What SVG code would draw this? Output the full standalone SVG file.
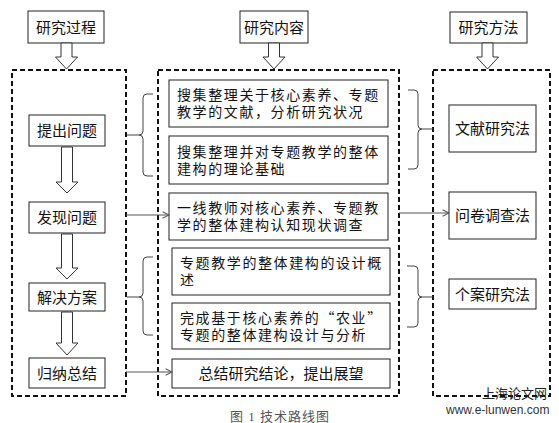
<svg xmlns="http://www.w3.org/2000/svg" width="559" height="423" viewBox="0 0 559 423">
<defs>
<style>
.bx{fill:#fff;stroke:#222;stroke-width:1}
.dash{fill:none;stroke:#111;stroke-width:2;stroke-dasharray:5 3}
.t{font-family:"Noto Sans CJK SC","Liberation Sans",sans-serif;font-size:15px;fill:#111}
.tl{font-family:"Noto Sans CJK SC","Liberation Sans",sans-serif;font-size:14px;fill:#111;letter-spacing:1.6px}
.c{text-anchor:middle}
.ha{fill:#fff;stroke:#333;stroke-width:1}
.br{fill:none;stroke:#444;stroke-width:1}
.ln{fill:none;stroke:#555;stroke-width:1.2}
</style>
<marker id="ah" viewBox="0 0 10 10" refX="9" refY="5" markerWidth="8" markerHeight="8" markerUnits="userSpaceOnUse" orient="auto">
<path d="M1,1 L9,5 L1,9" fill="none" stroke="#555" stroke-width="1.3"/>
</marker>
</defs>
<rect width="559" height="423" fill="#fff"/>

<g id="frames">
<rect class="dash" x="12" y="70" width="114" height="326"/>
<rect class="dash" x="158" y="70" width="241" height="326"/>
<rect class="dash" x="433" y="70" width="117" height="326"/>
</g>

<g id="head-process"><rect class="bx" x="28" y="11" width="76" height="32"/><text class="t c" x="66" y="32.5">研究过程</text></g>
<g id="head-content"><rect class="bx" x="240" y="11" width="68" height="32"/><text class="t c" x="274" y="32.5">研究内容</text></g>
<g id="head-method"><rect class="bx" x="450" y="12" width="77" height="31"/><text class="t c" x="488.5" y="33">研究方法</text></g>

<g id="p1"><rect class="bx" x="29" y="115" width="76" height="31"/><text class="t c" x="67" y="136">提出问题</text></g>
<g id="p2"><rect class="bx" x="29" y="202" width="76" height="31"/><text class="t c" x="67" y="223">发现问题</text></g>
<g id="p3"><rect class="bx" x="29" y="283" width="76" height="28"/><text class="t c" x="67" y="302.5">解决方案</text></g>
<g id="p4"><rect class="bx" x="29" y="358" width="76" height="30"/><text class="t c" x="67" y="378.5">归纳总结</text></g>

<g id="c1"><rect class="bx" x="169" y="80" width="219" height="47"/>
<text class="tl" x="177" y="100">搜集整理关于核心素养、专题<tspan x="177" dy="17">教学的文献，分析研究状况</tspan></text></g>
<g id="c2"><rect class="bx" x="169" y="136" width="219" height="48"/>
<text class="tl" x="177" y="156.5">搜集整理并对专题教学的整体<tspan x="177" dy="17">建构的理论基础</tspan></text></g>
<g id="c3"><rect class="bx" x="169" y="193" width="219" height="47"/>
<text class="tl" x="177" y="213">一线教师对核心素养、专题教<tspan x="177" dy="17">学的整体建构认知现状调查</tspan></text></g>
<g id="c4"><rect class="bx" x="172" y="248" width="218" height="47"/>
<text class="tl" x="180" y="268">专题教学的整体建构的设计概<tspan x="180" dy="17">述</tspan></text></g>
<g id="c5"><rect class="bx" x="172" y="303" width="218" height="46"/>
<text class="tl" x="180" y="322.5">完成基于核心素养的“农业”<tspan x="180" dy="17">专题的整体建构设计与分析</tspan></text></g>
<g id="c6"><rect class="bx" x="172" y="359" width="218" height="29"/>
<text class="t c" x="281" y="379">总结研究结论，提出展望</text></g>

<g id="m1"><rect class="bx" x="449" y="105" width="87" height="47"/><text class="t c" x="492.5" y="134">文献研究法</text></g>
<g id="m2"><rect class="bx" x="449" y="192" width="87" height="47"/><text class="t c" x="492.5" y="221">问卷调查法</text></g>
<g id="m3"><rect class="bx" x="449" y="279" width="87" height="30"/><text class="t c" x="492.5" y="299.5">个案研究法</text></g>

<g id="connectors">
<polygon class="ha" points="61,43 72,43 72,57 77.5,57 66.5,69 55.5,57 61,57"/>
<polygon class="ha" points="268.5,43 279.5,43 279.5,57 285,57 274,69 263,57 268.5,57"/>
<polygon class="ha" points="482,43 493,43 493,57 498.5,57 487.5,69 476.5,57 482,57"/>
<polygon class="ha" points="61.5,147 72.5,147 72.5,182 78,182 67,193 56,182 61.5,182"/>
<polygon class="ha" points="61.5,234 72.5,234 72.5,268 78,268 67,279 56,268 61.5,268"/>
<polygon class="ha" points="61.5,312 72.5,312 72.5,343 78,343 67,355 56,343 61.5,343"/>

<path class="br" d="M153,94 L147,94 Q143,94 143,98 L143,131 Q143,135 139,135 Q143,135 143,139 L143,172 Q143,176 147,176 L153,176 M127,135 L139,135"/>
<path class="br" d="M153,257 L147,257 Q143,257 143,261 L143,293 Q143,297 139,297 Q143,297 143,301 L143,331 Q143,335 147,335 L153,335 M127,297 L139,297"/>
<path class="br" d="M408,90 L414,90 Q418,90 418,94 L418,125 Q418,129 422,129 Q418,129 418,133 L418,165 Q418,169 414,169 L408,169 M422,129 L433,129"/>
<path class="br" d="M407,266 L414,266 Q418,266 418,270 L418,293 Q418,297 422,297 Q418,297 418,301 L418,323 Q418,327 414,327 L407,327 M422,297 L433,297"/>

<line class="ln" x1="126" y1="215" x2="169" y2="215" marker-end="url(#ah)"/>
<line class="ln" x1="399" y1="213" x2="449" y2="213" marker-end="url(#ah)"/>
<line class="ln" x1="126" y1="372" x2="172" y2="372" marker-end="url(#ah)"/>
</g>

<text x="230" y="421" style="font-family:'Liberation Serif','Noto Sans CJK SC',serif;font-size:13px;fill:#555;letter-spacing:1px">图 1  技术路线图</text>
<text x="482" y="398" style="font-family:'Noto Sans CJK SC','Liberation Sans',sans-serif;font-size:13px;fill:#222">上海论文网</text>
<text x="446" y="414" style="font-family:'Liberation Sans',sans-serif;font-size:12px;fill:#333">www.e-lunwen.com</text>
</svg>
